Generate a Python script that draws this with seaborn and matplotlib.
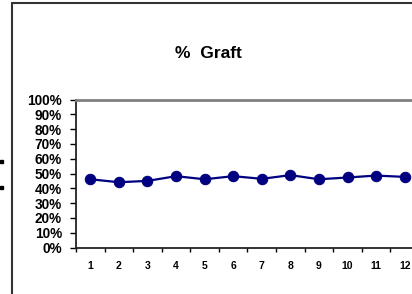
import matplotlib
matplotlib.use("Agg")
import matplotlib.pyplot as plt
import matplotlib.patches as mpatches
import matplotlib.lines as mlines
import numpy as np
import pandas as pd
import seaborn as sns

# values
samples = list(range(1, 13))
graft_pct = [46.1, 44.1, 45.0, 48.2, 46.1, 48.2, 46.4, 48.9, 46.1, 47.3, 48.6, 47.7]
y_ticks = list(range(0, 101, 10))
y_labels = [f"{v}%" for v in y_ticks]

df = pd.DataFrame({"sample": samples, "graft": graft_pct})

sns.set_theme(style="white")
plt.rcParams['font.family'] = ['Liberation Sans', 'DejaVu Sans']
plt.rcParams['font.weight'] = 'bold'
plt.rcParams['text.color'] = 'black'
plt.rcParams['xtick.color'] = 'black'
plt.rcParams['ytick.color'] = 'black'

W, H = 412, 294
fig = plt.figure(figsize=(W / 100, H / 100), dpi=100)
# plot area runs past the right edge of the picture, as in the original
ax = fig.add_axes([76 / W, (H - 247.5) / H, 343 / W, 148 / H])

sns.lineplot(data=df, x="sample", y="graft", ax=ax, color="#000080",
             linewidth=1.6, marker="o", markersize=7.5,
             markeredgecolor="#000080", markerfacecolor="#000080")

ax.set_xlim(0.5, 12.5)
ax.set_ylim(0, 100)
ax.set_xlabel("")
ax.set_ylabel("")

ax.set_yticks(y_ticks)
ax.set_yticklabels(y_labels, fontsize=9.8, fontweight='bold', color='black')
ax.set_xticks(samples)
ax.set_xticklabels([str(s) for s in samples], fontsize=7.5, fontweight='bold', color='black')
ax.set_xticks(np.arange(0.5, 13, 1), minor=True)
ax.tick_params(axis='x', which='major', length=0, pad=10)
ax.tick_params(axis='x', which='minor', bottom=True, length=3, width=1, color='black')
ax.tick_params(axis='y', left=True, length=4, width=1, color='black', pad=6)

for side in ['top', 'right']:
    ax.spines[side].set_color('#808080')
    ax.spines[side].set_linewidth(2)
for side in ['left', 'bottom']:
    ax.spines[side].set_color('#222222')
    ax.spines[side].set_linewidth(1.3)

fig.text(208 / W, 1 - 53 / H, "%  Graft", ha='center', va='center',
         fontsize=12.5, fontweight='bold', color='black')

# outer chart border (cut off at right and bottom)
fig.add_artist(mlines.Line2D([12 / W, 12 / W], [0, 1 - 3 / H], color='#333333', lw=1.5,
                             transform=fig.transFigure))
fig.add_artist(mlines.Line2D([12 / W, 1], [1 - 3 / H, 1 - 3 / H], color='#333333', lw=1.5,
                             transform=fig.transFigure))

# small legend markers cut off at the left edge
for yy in (161, 187):
    fig.add_artist(mpatches.Rectangle((0, 1 - (yy + 1.5) / H), 3 / W, 3 / H,
                                      color='black', transform=fig.transFigure))

fig.savefig("out.png", dpi=100)
